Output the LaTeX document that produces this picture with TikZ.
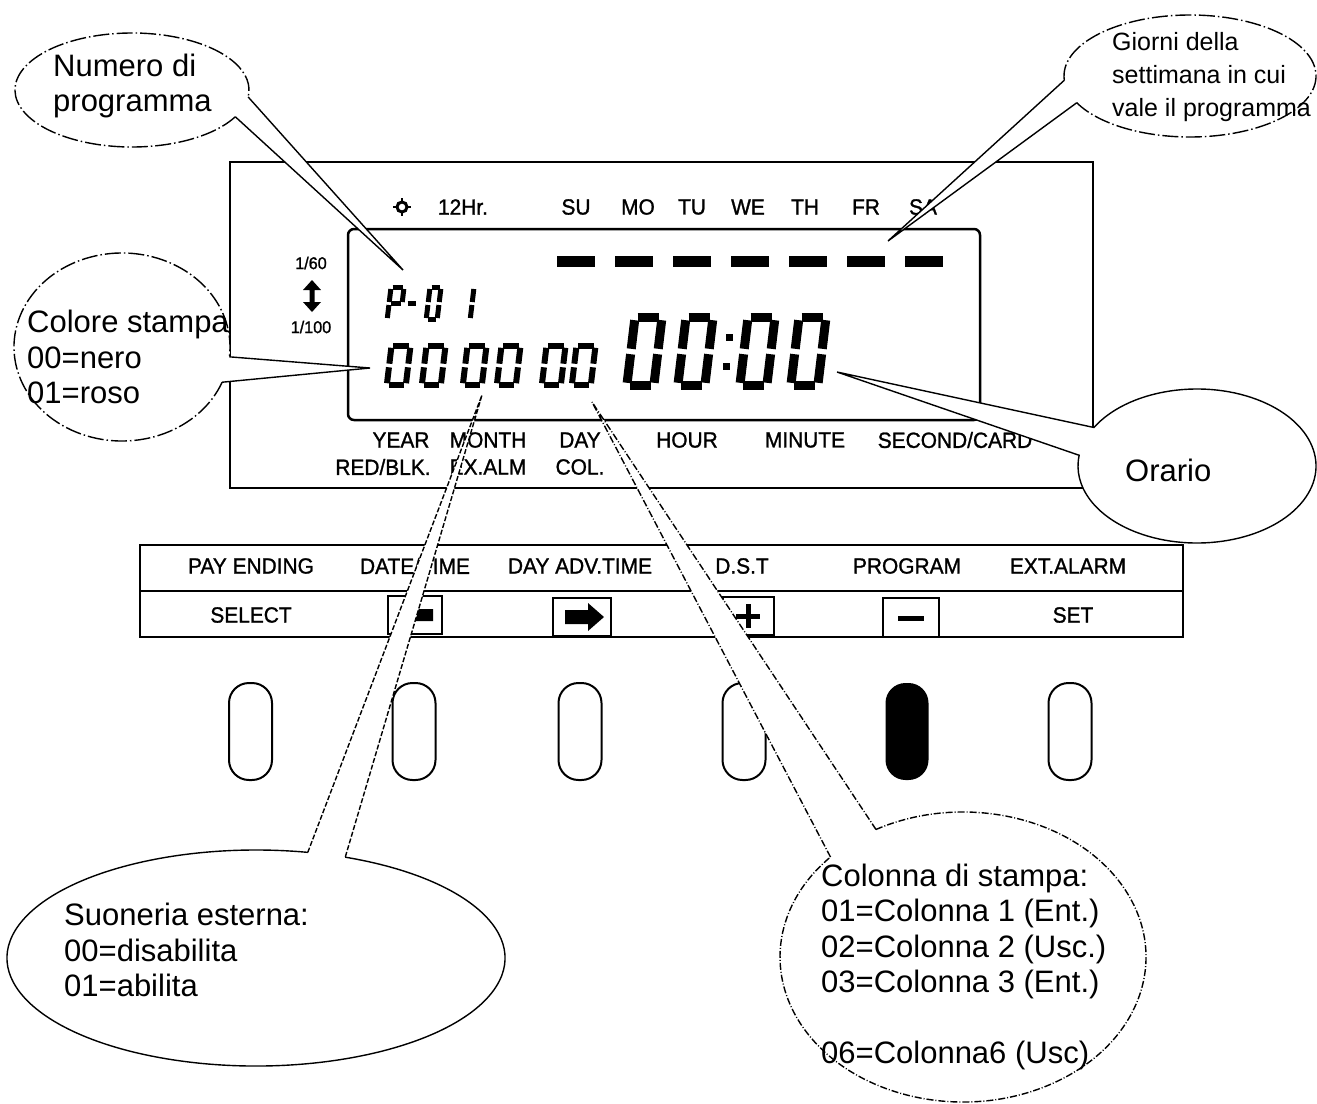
\documentclass[tikz,border=0pt]{standalone}
\usepackage{fontspec}
\setmainfont{Liberation Sans}
\newfontfamily\panelfont[FakeStretch=0.95,FakeBold=1.2]{Liberation Sans}
\usetikzlibrary{calc}

% seven-segment digit: #1 x0, #2 y0 (top-left, y down), #3 width, #4 height, #5 line width, #6 segments
\newcommand{\lcd}[6]{%
  \begin{scope}[shift={(#1,#2)},xslant=0.12,line width=#5]
    \def\W{#3}\def\H{#4}\pgfmathsetmacro\G{#5*0.3}%
    \foreach \s in {#6}{\csname lcdseg\s\endcsname}%
  \end{scope}}
\newcommand\lcdsega{\draw (\G,0) -- (\W-\G,0);}
\newcommand\lcdsegb{\draw (\W,\G) -- (\W,\H/2-\G);}
\newcommand\lcdsegc{\draw (\W,\H/2+\G) -- (\W,\H-\G);}
\newcommand\lcdsegd{\draw (\G,\H) -- (\W-\G,\H);}
\newcommand\lcdsege{\draw (0,\H/2+\G) -- (0,\H-\G);}
\newcommand\lcdsegf{\draw (0,\G) -- (0,\H/2-\G);}
\newcommand\lcdsegg{\draw (\G,\H/2) -- (\W-\G,\H/2);}

\begin{document}
\begin{tikzpicture}[x=1pt,y=-1pt,
  panel/.style={line width=2.5},
  plabel/.style={font=\panelfont\fontsize{22}{24}\selectfont,inner sep=0pt},
  slabel/.style={font=\panelfont\fontsize{17}{19}\selectfont,inner sep=0pt},
  ctext/.style={font=\fontsize{31}{35.5}\selectfont,align=left,inner sep=0pt,anchor=west},
  gtext/.style={font=\fontsize{25}{33}\selectfont,align=left,inner sep=0pt,anchor=west},
  cfill/.style={fill=white},
  cline/.style={draw=black,line width=1.4},
  dashA/.style={dash pattern=on 16pt off 3pt on 1.5pt off 3pt},
  dashB/.style={dash pattern=on 7pt off 2pt on 1pt off 2pt},
  dashC/.style={dash pattern=on 5pt off 2pt},
  btn/.style={draw,line width=2,rounded corners=20},
  keybox/.style={draw,line width=2.2}]

\useasboundingbox (0,0) rectangle (1317,1103);
\fill[white] (0,0) rectangle (1317,1103);

% ---------------- display panel ----------------
\draw[panel] (230,162) rectangle (1093,488);
\draw[panel,rounded corners=6] (348,229) rectangle (980,420);

% sun symbol and top labels
\coordinate (sun) at (402,207);
\draw[line width=2.2] ($(sun)+(0,-9)$) -- ($(sun)+(0,9)$) ($(sun)+(-9,0)$) -- ($(sun)+(9,0)$);
\draw[line width=3,fill=white] (sun) circle[radius=5];
\node[plabel] (l12) at (463,207) {12Hr.};
\node[plabel] (lsu) at (576,207) {SU};
\node[plabel] (lmo) at (638,207) {MO};
\node[plabel] (ltu) at (692,207) {TU};
\node[plabel] (lwe) at (748,207) {WE};
\node[plabel] (lth) at (805,207) {TH};
\node[plabel] (lfr) at (866,207) {FR};
\node[plabel] (lsa) at (923,207) {SA};

% day bars
\foreach \x in {576,634,692,750,808,866,924}
  \fill (\x-19,256) rectangle (\x+19,267);

% 1/60 <-> 1/100
\node[slabel] (l60) at (311,263) {1/60};
\node[slabel] (l100) at (311,327) {1/100};
\fill (312,280) -- (321,290) -- (314.5,290) -- (314.5,302) -- (321,302) -- (312,312)
      -- (303,302) -- (309.5,302) -- (309.5,290) -- (303,290) -- cycle;

% P-01
\lcd{391}{287.5}{13}{32}{5}{a,b,f,g,e}
\lcd{408}{287.5}{11}{32}{5}{g}
\lcd{430}{287.5}{11}{32}{5}{a,b,c,d,e,f}
\lcd{466}{287.5}{8}{32}{5}{b,c}

% small digits 00 00 00
\foreach \x in {391.5,426.5,467.5,501.5,546.5,576.5}
  {\lcd{\x}{346}{19}{39}{6}{a,b,c,d,e,f}}
% big digits 00:00
\foreach \x in {635,686,748,799}
  {\lcd{\x}{317.5}{27}{68}{9}{a,b,c,d,e,f}}
\fill (726,334) rectangle (733,341);
\fill (723,363) rectangle (730,370);

% labels under LCD
\node[plabel] (lyear) at (401,440) {YEAR};
\node[plabel] (lmonth) at (488,440) {MONTH};
\node[plabel] (lday) at (580,440) {DAY};
\node[plabel] (lhour) at (687,440) {HOUR};
\node[plabel] (lmin) at (805,440) {MINUTE};
\node[plabel] (lsec) at (955,440) {SECOND/CARD};
\node[plabel] (lred) at (383,467) {RED/BLK.};
\node[plabel] (lexa) at (488,467) {EX.ALM};
\node[plabel] (lcol) at (580,467) {COL.};

% ---------------- button panel ----------------
\draw[panel] (140,545) rectangle (1183,637);
\draw[panel] (140,591) -- (1183,591);
\node[plabel] (bpay) at (251,566) {PAY ENDING};
\node[plabel] (bdate) at (415,566) {DATE/TIME};
\node[plabel] (bdayadv) at (580,566) {DAY ADV.TIME};
\node[plabel] (bdst) at (742,566) {D.S.T};
\node[plabel] (bprog) at (907,566) {PROGRAM};
\node[plabel] (bext) at (1068,566) {EXT.ALARM};
\node[plabel] (bsel) at (251,615) {SELECT};
\node[plabel] (bset) at (1073,615) {SET};

\draw[keybox] (388,596) rectangle (442,634);
\fill (400,615) -- (414,604) -- (414,609) -- (433,609) -- (433,621) -- (414,621) -- (414,626) -- cycle;
\draw[keybox] (553,598) rectangle (611,636);
\fill (565,610) -- (588,610) -- (588,603) -- (604,617) -- (588,631) -- (588,624) -- (565,624) -- cycle;
\draw[keybox] (723,597) rectangle (774,635);
\draw[line width=5] (736,616) -- (760,616) (748,604) -- (748,628);
\draw[keybox] (883,598) rectangle (939,637);
\draw[line width=5] (898,618) -- (924,618);

% buttons
\foreach \x in {250.5,414,580,744,1070}
  \draw[btn] (\x-21.5,683) rectangle (\x+21.5,780);
\fill[rounded corners=20] (885.5,683) rectangle (928.5,780);

% ---------------- callouts ----------------
% Numero di programma
\coordinate (cnum) at (132,90);
\coordinate (tnum) at (403,270);
\path[cfill] ($(cnum)+(28:117 and 57)$) coordinate (n1) arc[start angle=28,end angle=367,x radius=117,y radius=57] coordinate (n2) -- (tnum) -- cycle;
\draw[cline,dashA] (n1) arc[start angle=28,end angle=367,x radius=117,y radius=57];
\draw[cline] (n2) -- (tnum) -- (n1);
\node[ctext] (numtext) at (53,86) {Numero di\\programma};

% Giorni della settimana
\coordinate (cgio) at (1190,76);
\coordinate (tgio) at (888,241);
\path[cfill] ($(cgio)+(176:126 and 61)$) coordinate (g1) arc[start angle=176,end angle=514,x radius=126,y radius=61] coordinate (g2) -- (tgio) -- cycle;
\draw[cline,dashA] (g1) arc[start angle=176,end angle=514,x radius=126,y radius=61];
\draw[cline] (g2) -- (tgio) -- (g1);
\node[gtext] (giotext) at (1112,77) {Giorni della\\settimana in cui\\vale il programma};

% Colore stampa
\coordinate (ccol) at (122,347);
\coordinate (tcol) at (370,368);
\path[cfill] ($(ccol)+(22:108 and 94)$) coordinate (k1) arc[start angle=22,end angle=366,x radius=108,y radius=94] coordinate (k2) -- (tcol) -- cycle;
\draw[cline,dashA] (k1) arc[start angle=22,end angle=366,x radius=108,y radius=94];
\draw[cline] (k2) -- (tcol) -- (k1);
\node[ctext] (coltext) at (27,357) {Colore stampa\\00=nero\\01=roso};

% Orario
\coordinate (cora) at (1197,466);
\coordinate (tora) at (837,372);
\draw[cfill,cline] ($(cora)+(210:119 and 77)$) arc[start angle=210,end angle=548,x radius=119,y radius=77] -- (tora) -- cycle;
\node[ctext] (oratext) at (1125,470) {Orario};

% Suoneria esterna
\coordinate (csuo) at (256,958);
\coordinate (tsuo) at (482,395);
\path[cfill] ($(csuo)+(291:249 and 108)$) coordinate (s1) arc[start angle=291,end angle=642,x radius=249,y radius=108] coordinate (s2) -- (tsuo) -- cycle;
\draw[cline] (s1) arc[start angle=291,end angle=642,x radius=249,y radius=108];
\draw[cline,dashC] (s2) -- (tsuo) -- (s1);
\node[ctext] (suotext) at (64,950) {Suoneria esterna:\\00=disabilita\\01=abilita};

% Colonna di stampa
\coordinate (ccolo) at (963,957);
\coordinate (tcolo) at (592,402);
\path[cfill] ($(ccolo)+(241.6:183 and 145)$) coordinate (c1) arc[start angle=241.6,end angle=583.6,x radius=183,y radius=145] coordinate (c2) -- (tcolo) -- cycle;
\draw[cline,dashB] (c1) arc[start angle=241.6,end angle=583.6,x radius=183,y radius=145];
\draw[cline,dashB] (c2) -- (tcolo) -- (c1);
\node[ctext] (colotext) at (821,967) {Colonna di stampa:\\01=Colonna 1 (Ent.)\\02=Colonna 2 (Usc.)\\03=Colonna 3 (Ent.)\\[35.5pt]06=Colonna6 (Usc)};

\end{tikzpicture}
\end{document}
